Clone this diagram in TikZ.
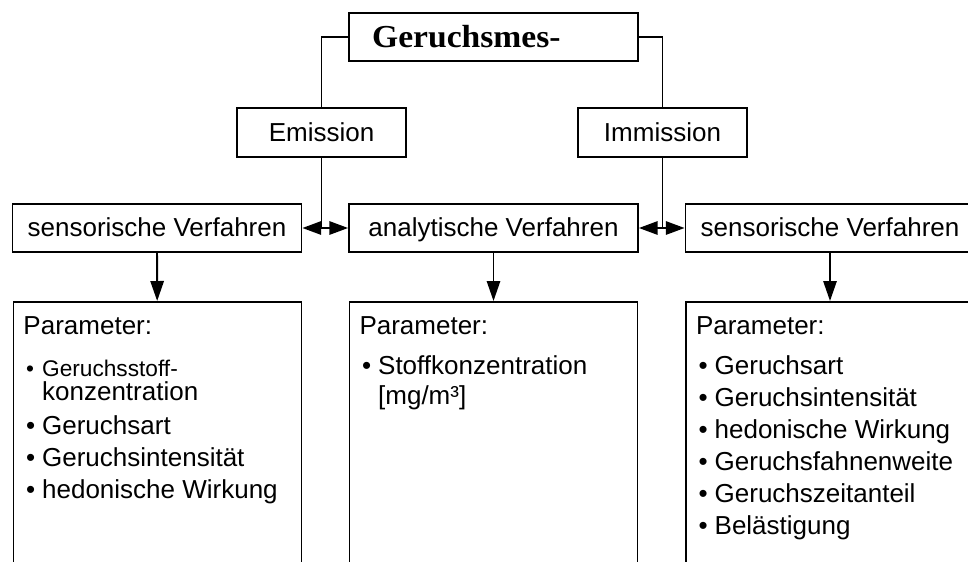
\documentclass[tikz,border=0pt]{standalone}
\usepackage{fontspec}
\setmainfont{Liberation Sans}
\newfontfamily\titelschrift[FakeStretch=1.05]{Liberation Serif}
\usetikzlibrary{calc}
\usetikzlibrary{arrows.meta}

\newcommand{\punkt}{\hspace*{2pt}\makebox[12pt][l]{\textbullet}}
\newcommand{\einzug}{\hspace*{14pt}}
\newcommand{\liste}[1]{\parbox[t][186pt][t]{201pt}{\fontsize{19.5}{24}\selectfont #1}}

\begin{document}
\begin{tikzpicture}[x=0.75pt,y=-0.75pt]

\tikzset{
    box/.style = {
    draw, line width=1.4pt, inner sep=0pt,
    font=\fontsize{19.5}{22}\selectfont
    }
}

\tikzstyle{kopf}=[box, minimum height=36pt, text width=182pt, inner xsep=17.25pt, align=left, font=\titelschrift\fontsize{24}{28}\selectfont\bfseries]
\tikzstyle{stufe}=[box, minimum height=36.75pt, minimum width=126.75pt, text height=15.5pt, text depth=2.5pt]
\tikzstyle{verfahren}=[box, minimum height=36pt, minimum width=216.75pt, text height=15.5pt, text depth=2.5pt]
\tikzstyle{parameter}=[box, anchor=north, inner xsep=7.5pt, inner ysep=11pt]
\tikzstyle{linie}=[line width=1.4pt]
\tikzstyle{pfeil}=[line width=1.4pt, -{Triangle[length=15pt,width=10pt]}]
\tikzstyle{doppelpfeil}=[line width=1.4pt, {Triangle[length=14pt,width=10pt]}-{Triangle[length=14pt,width=10pt]}]

\useasboundingbox (0,0) rectangle (968,561);

\node (kopf) [kopf] at (493.5,37) {Geruchsmes-};

\node (emission) [stufe] at (321.5,132.5) {Emission};
\node (immission) [stufe] at (662.5,132.5) {Immission};

\node (sens-1) [verfahren] at (157,228) {sensorische Verfahren};
\node (ana) [verfahren] at (493.5,228) {analytische Verfahren};
\node (sens-2) [verfahren] at (830,228) {sensorische Verfahren};

\node (par-1) [parameter] at (157.5,301) {\liste{Parameter:\\[7.5pt]
{\fontsize{17}{20}\selectfont\punkt Geruchsstoff-}\\[-6pt]
\einzug konzentration\\[1.5pt]
\punkt Geruchsart\\
\punkt Geruchsintensität\\
\punkt hedonische Wirkung}};

\node (par-2) [parameter] at (493.5,301) {\liste{Parameter:\\[6pt]
\punkt Stoffkonzentration\\[-1.5pt]
\einzug [mg/m³]}};

\node (par-3) [parameter] at (830,301) {\liste{Parameter:\\[6pt]
\punkt Geruchsart\\
\punkt Geruchsintensität\\
\punkt hedonische Wirkung\\
\punkt Geruchsfahnenweite\\
\punkt Geruchszeitanteil\\
\punkt Belästigung}};

\draw[linie] (kopf.west) -| (emission.north);
\draw[linie] (kopf.east) -| (immission.north);

\draw[doppelpfeil] (sens-1.east) -- (ana.west);
\draw[doppelpfeil] (ana.east) -- (sens-2.west);
\draw[linie] (emission.south) -- (emission.south |- sens-1.east);
\draw[linie] (immission.south) -- (immission.south |- ana.east);

\draw[pfeil] (sens-1) -- (par-1);
\draw[pfeil] (ana) -- (par-2);
\draw[pfeil] (sens-2) -- (par-3);

\end{tikzpicture}
\end{document}
